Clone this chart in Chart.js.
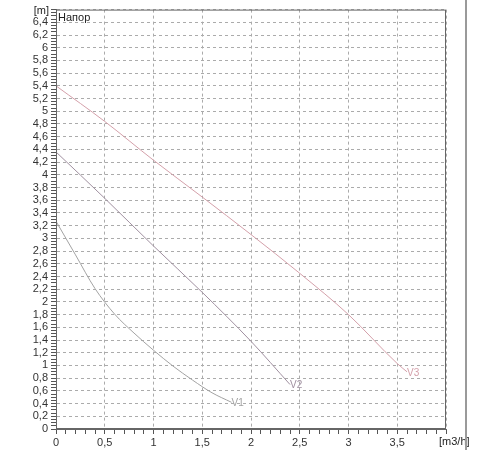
<!DOCTYPE html>
<html>
<head>
<meta charset="utf-8">
<script src="https://cdn.jsdelivr.net/npm/chart.js@4.4.0/dist/chart.umd.min.js"></script>
<style>
  html, body { margin: 0; padding: 0; background: #fff; }
  #wrap { position: relative; width: 500px; height: 450px; }
  #edge { position: absolute; left: 465px; top: 0; width: 2px; height: 450px; background: #9a9a9a; }
</style>
</head>
<body>
<div id="wrap">
  <canvas id="chart" width="500" height="450"></canvas>
  <div id="edge"></div>
</div>
<script>
// pump curves (flow m3/h -> head m)
const v1Flow = [0, 0.2, 0.4, 0.6, 0.8, 1.0, 1.2, 1.4, 1.6, 1.8];
const v1Head = [3.27, 2.74, 2.21, 1.81, 1.51, 1.24, 0.99, 0.77, 0.57, 0.42];
const v2Flow = [0, 0.5, 1.0, 1.5, 2.0, 2.4];
const v2Head = [4.36, 3.63, 2.88, 2.15, 1.38, 0.7];
const v3Flow = [0, 0.5, 1.0, 1.5, 2.0, 2.5, 3.0, 3.5, 3.6];
const v3Head = [5.4, 4.84, 4.23, 3.65, 3.06, 2.45, 1.8, 1.03, 0.9];
const seriesNames = ['V1', 'V2', 'V3'];
const seriesColors = ['#a3a3a3', '#a090a0', '#d4a0aa'];

const yMax = 6.6, yLabelMax = 6.4;
const xMax = 4, xLabelMax = 3.5;

function toPoints(xs, ys) {
    return xs.map((x, i) => ({ x: x, y: ys[i] }));
}
function comma(v) {
    return String(v).replace('.', ',');
}
const isMajorY = v => Math.round(v * 100) % 20 === 0;
const isMajorX = v => Math.round(v * 10) % 5 === 0;

// frame, end labels and the axis captions
const decorPlugin = {
    id: 'decor',
    afterDatasetsDraw(chart) {
        const { ctx, chartArea } = chart;
        ctx.save();
        ctx.strokeStyle = '#666';
        ctx.lineWidth = 1;
        ctx.strokeRect(chartArea.left + 0.5, chartArea.top + 0.5,
            chartArea.right - chartArea.left - 1, chartArea.bottom - chartArea.top - 1);

        ctx.font = '10px "Liberation Sans", Arial, sans-serif';
        ctx.textBaseline = 'middle';
        ctx.textAlign = 'left';
        chart.data.datasets.forEach((ds, i) => {
            const pts = chart.getDatasetMeta(i).data;
            const last = pts[pts.length - 1];
            ctx.fillStyle = ds.borderColor;
            ctx.fillText(ds.label, last.x, last.y + 1);
        });

        ctx.fillStyle = '#222';
        ctx.font = '11px "Liberation Sans", Arial, sans-serif';
        ctx.fillText('Напор', chartArea.left + 2, chartArea.top + 8);
        ctx.textAlign = 'right';
        ctx.fillText('[m]', chartArea.left - 7, chartArea.top + 1);
        ctx.textAlign = 'left';
        ctx.fillText('[m3/h]', chartArea.right - 7, chartArea.bottom + 13);
        ctx.restore();
    }
};

const datasets = [
    toPoints(v1Flow, v1Head),
    toPoints(v2Flow, v2Head),
    toPoints(v3Flow, v3Head)
].map((pts, i) => ({
    label: seriesNames[i],
    data: pts,
    borderColor: seriesColors[i],
    borderWidth: 1,
    pointRadius: 0,
    cubicInterpolationMode: 'monotone',
    fill: false
}));

const tickFont = { family: '"Liberation Sans", Arial, sans-serif', size: 11 };

new Chart(document.getElementById('chart'), {
    type: 'line',
    data: { datasets: datasets },
    options: {
        responsive: false,
        animation: false,
        layout: { padding: { top: 6, right: 54, left: 0, bottom: 0 } },
        plugins: {
            legend: { display: false },
            tooltip: { enabled: false }
        },
        scales: {
            x: {
                type: 'linear',
                min: 0,
                max: xMax,
                afterFit: scale => { scale.height = 21; },
                ticks: {
                    stepSize: 0.1,
                    autoSkip: false,
                    maxRotation: 0,
                    padding: 2,
                    color: '#333',
                    font: tickFont,
                    callback: v => {
                        const r = Math.round(v * 10) / 10;
                        return isMajorX(r) && r <= xLabelMax ? comma(r) : '';
                    }
                },
                grid: {
                    color: c => isMajorX(c.tick.value) ? '#ababab' : 'rgba(0,0,0,0)',
                    tickColor: '#555',
                    tickLength: 5
                },
                border: { display: true, color: '#666', dash: [3, 3] }
            },
            y: {
                type: 'linear',
                min: 0,
                max: yMax,
                afterFit: scale => { scale.width = 56; },
                ticks: {
                    stepSize: 0.05,
                    autoSkip: false,
                    padding: 3,
                    color: '#333',
                    font: tickFont,
                    callback: v => {
                        const r = Math.round(v * 100) / 100;
                        return isMajorY(r) && r <= yLabelMax ? comma(r) : '';
                    }
                },
                grid: {
                    color: c => isMajorY(c.tick.value) ? '#ababab' : 'rgba(0,0,0,0)',
                    tickColor: '#555',
                    tickLength: 5
                },
                border: { display: true, color: '#666', dash: [3, 3] }
            }
        }
    },
    plugins: [decorPlugin]
});
</script>
</body>
</html>
